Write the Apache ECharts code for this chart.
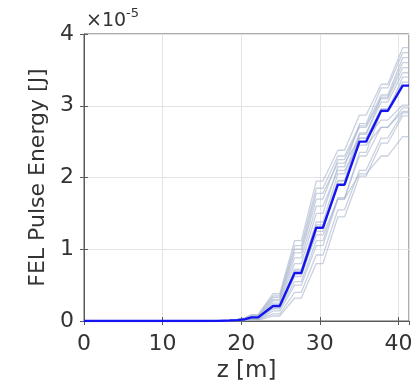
<!DOCTYPE html>
<html>
<head>
<meta charset="utf-8">
<script src="https://cdn.jsdelivr.net/npm/echarts@6/dist/echarts.min.js"></script>
<style>
  html, body { margin: 0; padding: 0; background: #fff; }
  #chart { width: 415px; height: 383px; }
</style>
</head>
<body>
<div id="chart"></div>
<script>
// Positions along the undulator line [m]: early start-up points, then each
// break (drift) section as a start/end pair where the pulse energy stays flat.
const zEarly = [0, 15, 17, 18.5, 19.5, 20.5];
const zBreaks = [[21.3, 22.15], [24.05, 24.9], [26.8, 27.65], [29.55, 30.4],
                 [32.3, 33.15], [35.05, 35.9], [37.8, 38.65], [40.55, 41.35]];

// Energy values in units of 1e-5 J.
// Ensemble mean: early start-up values and the level held in each break.
const meanEarly = [0, 0, 0.002, 0.006, 0.012, 0.025];
const meanBreaks = [0.05, 0.21, 0.67, 1.30, 1.90, 2.50, 2.93, 3.28];

// Individual shots of the ensemble (same layout as the mean).
const shotEarly = [
  [0, 0, 0.004, 0.010, 0.022, 0.045],
  [0, 0, 0.002, 0.006, 0.012, 0.025],
  [0, 0, 0.004, 0.009, 0.020, 0.040],
  [0, 0, 0.001, 0.004, 0.008, 0.016],
  [0, 0, 0.003, 0.007, 0.015, 0.030],
  [0, 0, 0.002, 0.005, 0.010, 0.020],
  [0, 0, 0.001, 0.002, 0.005, 0.010],
  [0, 0, 0.003, 0.008, 0.018, 0.036],
  [0, 0, 0.001, 0.004, 0.008, 0.016],
  [0, 0, 0.003, 0.007, 0.014, 0.028],
  [0, 0, 0.001, 0.002, 0.004, 0.009],
  [0, 0, 0.000, 0.001, 0.003, 0.006],
  [0, 0, 0.002, 0.005, 0.010, 0.020],
  [0, 0, 0.001, 0.004, 0.008, 0.016]
];
const shotBreaks = [
  [0.09, 0.38, 1.12, 1.95, 2.38, 2.87, 3.30, 3.81],
  [0.05, 0.25, 0.80, 1.50, 2.15, 2.75, 3.25, 3.74],
  [0.08, 0.35, 1.05, 1.85, 2.30, 2.72, 3.15, 3.67],
  [0.03, 0.18, 0.62, 1.25, 1.95, 2.60, 3.12, 3.60],
  [0.06, 0.30, 0.95, 1.70, 2.25, 2.70, 3.10, 3.53],
  [0.04, 0.22, 0.72, 1.38, 2.05, 2.62, 3.05, 3.46],
  [0.02, 0.14, 0.50, 1.05, 1.70, 2.35, 2.92, 3.40],
  [0.07, 0.33, 1.00, 1.78, 2.20, 2.55, 2.80, 3.01],
  [0.03, 0.17, 0.55, 1.12, 1.72, 2.30, 2.70, 2.97],
  [0.05, 0.28, 0.88, 1.60, 2.10, 2.45, 2.70, 2.92],
  [0.02, 0.10, 0.40, 0.92, 1.55, 2.10, 2.55, 2.90],
  [0.01, 0.07, 0.32, 0.80, 1.45, 2.02, 2.48, 2.86],
  [0.04, 0.20, 0.66, 1.20, 1.70, 2.05, 2.30, 2.57],
  [0.03, 0.20, 0.70, 1.34, 1.96, 2.55, 2.96, 3.33]
];

const xTicks = [0, 10, 20, 30, 40];
const yTicks = [0, 1, 2, 3, 4];

// Turn early values plus flat break levels into [z, E] pairs.
function buildLine(early, levels) {
  const pts = zEarly.map((z, i) => [z, early[i]]);
  zBreaks.forEach((pair, i) => {
    pts.push([pair[0], levels[i]]);
    pts.push([pair[1], levels[i]]);
  });
  return pts;
}

const FONT = 'DejaVu Sans';
const TEXT = '#333';
const FRAME = '#5a5a5a';

const series = shotBreaks.map((lv, i) => ({
  type: 'line',
  data: buildLine(shotEarly[i], lv),
  showSymbol: false,
  silent: true,
  lineStyle: { color: 'rgba(168,180,205,0.62)', width: 1.3 },
  z: 2
}));
series.push({
  type: 'line',
  data: buildLine(meanEarly, meanBreaks),
  showSymbol: false,
  silent: true,
  lineStyle: { color: '#1414f0', width: 2.4 },
  z: 5
});

const xMax = 41.35;
const tickFmt = (ticks) => (v) => (ticks.indexOf(Math.round(v * 1000) / 1000) >= 0 ? String(v) : '');

const chart = echarts.init(document.getElementById('chart'), null, { renderer: 'canvas' });
chart.setOption({
  animation: false,
  backgroundColor: '#fff',
  grid: { left: 84, right: 6, top: 34, bottom: 62, show: true, borderColor: FRAME, borderWidth: 1,
          containLabel: false, outerBoundsMode: 'none' },
  xAxis: [{
    type: 'value', min: 0, max: xMax, interval: 10,
    name: 'z [m]', nameLocation: 'middle', nameGap: 37,
    nameTextStyle: { fontFamily: FONT, fontSize: 23, color: TEXT },
    axisLine: { show: true, lineStyle: { color: FRAME, width: 1 } },
    axisTick: { show: true, inside: true, length: 4, lineStyle: { color: FRAME } },
    axisLabel: { fontFamily: FONT, fontSize: 22, color: TEXT, margin: 12,
                 showMaxLabel: false, formatter: tickFmt(xTicks) },
    splitLine: { show: true, lineStyle: { color: '#e3e3e3', width: 1 } }
  }, {
    type: 'value', min: 0, max: xMax, interval: 10, position: 'top',
    axisLine: { show: true, lineStyle: { color: FRAME, width: 1 } },
    axisTick: { show: true, inside: true, length: 4, lineStyle: { color: FRAME } },
    axisLabel: { show: false }, splitLine: { show: false }
  }],
  yAxis: [{
    type: 'value', min: 0, max: 4, interval: 1,
    name: 'FEL Pulse Energy [J]', nameLocation: 'middle', nameGap: 33, nameRotate: 90,
    nameTextStyle: { fontFamily: FONT, fontSize: 22, color: TEXT },
    axisLine: { show: true, lineStyle: { color: FRAME, width: 1 } },
    axisTick: { show: true, inside: true, length: 4, lineStyle: { color: FRAME } },
    axisLabel: { fontFamily: FONT, fontSize: 22, color: TEXT, margin: 10, formatter: tickFmt(yTicks) },
    splitLine: { show: true, lineStyle: { color: '#e3e3e3', width: 1 } }
  }, {
    type: 'value', min: 0, max: 4, interval: 1, position: 'right',
    axisLine: { show: true, lineStyle: { color: FRAME, width: 1 } },
    axisTick: { show: true, inside: true, length: 4, lineStyle: { color: FRAME } },
    axisLabel: { show: false }, splitLine: { show: false }
  }],
  graphic: [{
    type: 'text', left: 86, top: 7,
    style: {
      text: '{a|×10}{b|-5}',
      rich: {
        a: { fontFamily: FONT, fontSize: 19, fill: TEXT, verticalAlign: 'bottom', lineHeight: 24 },
        b: { fontFamily: FONT, fontSize: 13, fill: TEXT, verticalAlign: 'top', lineHeight: 24, padding: [0, 0, 11, 0] }
      }
    }
  }],
  series: series
});
</script>
</body>
</html>
